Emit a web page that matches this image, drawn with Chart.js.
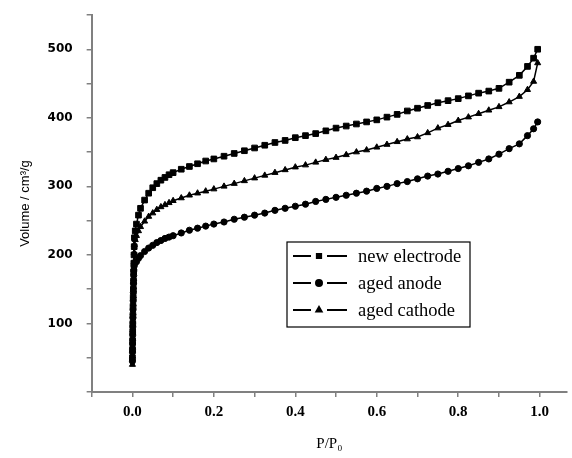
<!DOCTYPE html>
<html>
<head>
<meta charset="utf-8">
<script src="https://cdn.jsdelivr.net/npm/chart.js@4/dist/chart.umd.min.js"></script>
<style>
  html, body { margin: 0; padding: 0; background: #fff; }
  #wrap { width: 572px; height: 458px; }
</style>
</head>
<body>
<div id="wrap"><canvas id="isothermChart"></canvas></div>
<script>
// P/P0 and adsorbed volume for each sample
var newP = [0.0001, 0.0003, 0.0005, 0.0008, 0.001, 0.0013, 0.0016, 0.002, 0.0024, 0.0028, 0.0032, 0.0036, 0.004, 0.0045, 0.005,
    0.007, 0.01, 0.015, 0.02, 0.03, 0.04, 0.05, 0.06, 0.07, 0.08, 0.09, 0.1, 0.12, 0.14, 0.16, 0.18, 0.2,
    0.225, 0.25, 0.275, 0.3, 0.325, 0.35, 0.375, 0.4, 0.425, 0.45, 0.475, 0.5, 0.525, 0.55, 0.575, 0.6,
    0.625, 0.65, 0.675, 0.7, 0.725, 0.75, 0.775, 0.8, 0.825, 0.85, 0.875, 0.9, 0.925, 0.95, 0.97, 0.985, 0.995];
var newV = [50, 62, 75, 88, 100, 112, 125, 138, 150, 162, 175, 188, 200, 212, 225,
    235, 245, 258, 268, 280, 290, 298, 304, 309, 313, 317, 320, 325, 329, 333, 337, 340,
    344, 348, 352, 356, 360, 364, 367, 371, 374, 377, 381, 385, 388, 391, 394, 397,
    401, 405, 410, 414, 418, 422, 425, 428, 432, 436, 439, 443, 452, 462, 475, 487, 500];

var anodeP = [0.0001, 0.0003, 0.0005, 0.0008, 0.001, 0.0013, 0.0016, 0.002, 0.0024, 0.0028, 0.0032, 0.0036, 0.004, 0.005,
    0.01, 0.015, 0.02, 0.03, 0.04, 0.05, 0.06, 0.07, 0.08, 0.09, 0.1, 0.12, 0.14, 0.16, 0.18, 0.2,
    0.225, 0.25, 0.275, 0.3, 0.325, 0.35, 0.375, 0.4, 0.425, 0.45, 0.475, 0.5, 0.525, 0.55, 0.575, 0.6,
    0.625, 0.65, 0.675, 0.7, 0.725, 0.75, 0.775, 0.8, 0.825, 0.85, 0.875, 0.9, 0.925, 0.95, 0.97, 0.985, 0.995];
var anodeV = [45, 58, 70, 83, 95, 108, 120, 133, 145, 158, 170, 178, 183, 186,
    190, 195, 199, 205, 210, 214, 218, 221, 224, 226, 228, 232, 236, 239, 242, 245,
    248, 252, 255, 258, 261, 265, 268, 271, 274, 278, 281, 284, 287, 290, 293, 297,
    300, 304, 307, 311, 315, 318, 322, 326, 330, 335, 340, 347, 355, 362, 374, 384, 394];

var cathodeP = [0.0001, 0.0003, 0.0005, 0.0008, 0.001, 0.0013, 0.0016, 0.002, 0.0024, 0.0028, 0.0032, 0.0036, 0.004, 0.0045, 0.005,
    0.007, 0.01, 0.015, 0.02, 0.03, 0.04, 0.05, 0.06, 0.07, 0.08, 0.09, 0.1, 0.12, 0.14, 0.16, 0.18, 0.2,
    0.225, 0.25, 0.275, 0.3, 0.325, 0.35, 0.375, 0.4, 0.425, 0.45, 0.475, 0.5, 0.525, 0.55, 0.575, 0.6,
    0.625, 0.65, 0.675, 0.7, 0.725, 0.75, 0.775, 0.8, 0.825, 0.85, 0.875, 0.9, 0.925, 0.95, 0.97, 0.985, 0.995];
var cathodeV = [40, 52, 65, 78, 90, 103, 115, 128, 140, 153, 165, 178, 190, 203, 215,
    222, 228, 235, 241, 249, 256, 261, 266, 270, 273, 276, 279, 283, 287, 290, 293, 296,
    300, 304, 308, 312, 316, 320, 324, 328, 331, 335, 339, 342, 346, 350, 353, 357,
    361, 365, 369, 372, 378, 385, 390, 396, 401, 406, 411, 416, 423, 431, 441, 453, 480];

var seriesNames = ['new electrode', 'aged anode', 'aged cathode'];
var yTickLabels = [100, 200, 300, 400, 500];
var xTickLabels = [0, 0.2, 0.4, 0.6, 0.8, 1.0];

function toPoints(px, vy) {
    return px.map(function (p, i) { return { x: p, y: vy[i] }; });
}

var axisGrey = '#808080';

// legend drawn inside a box in the middle of the plot
var boxLegend = {
    id: 'boxLegend',
    afterDraw: function (chart) {
        var ctx = chart.ctx;
        var left = 287, top = 242, w = 183, h = 85;
        ctx.save();
        ctx.strokeStyle = '#000';
        ctx.lineWidth = 1.2;
        ctx.strokeRect(left, top, w, h);
        ctx.font = '18.5px "Liberation Serif", "Times New Roman", serif';
        ctx.textBaseline = 'middle';
        ctx.fillStyle = '#000';
        chart.data.datasets.forEach(function (ds, i) {
            var y = top + 14 + i * 27;
            ctx.beginPath();
            ctx.lineWidth = 2;
            ctx.moveTo(293, y); ctx.lineTo(311, y);
            ctx.moveTo(327, y); ctx.lineTo(347, y);
            ctx.stroke();
            Chart.helpers.drawPoint(ctx, { pointStyle: ds.pointStyle, radius: 3, borderWidth: 1, rotation: 0 }, 319, y);
            ctx.fill();
            ctx.fillText(ds.label, 358, y + 1);
        });
        ctx.restore();
    }
};

var ctx = document.getElementById('isothermChart').getContext('2d');
var isothermChart = new Chart(ctx, {
    type: 'scatter',
    data: {
        datasets: [{
            label: seriesNames[0],
            data: toPoints(newP, newV),
            pointStyle: 'rect',
            pointRadius: 4
        }, {
            label: seriesNames[1],
            data: toPoints(anodeP, anodeV),
            pointStyle: 'circle',
            pointRadius: 3.1
        }, {
            label: seriesNames[2],
            data: toPoints(cathodeP, cathodeV),
            pointStyle: 'triangle',
            pointRadius: 3.5
        }].map(function (d) {
            d.showLine = true;
            d.borderColor = '#000';
            d.backgroundColor = '#000';
            d.borderWidth = 1.5;
            d.pointBorderWidth = 1;
            return d;
        })
    },
    options: {
        responsive: true,
        maintainAspectRatio: false,
        animation: false,
        layout: { padding: { top: 15, right: 1, left: 18, bottom: 5 } },
        plugins: {
            legend: { display: false },
            tooltip: { enabled: false }
        },
        scales: {
            x: {
                type: 'linear',
                min: -0.1,
                max: 1.067,
                grid: { drawOnChartArea: false, drawTicks: true, tickLength: 5, color: axisGrey, lineWidth: 1.5 },
                border: { color: axisGrey, width: 2 },
                ticks: {
                    stepSize: 0.1,
                    includeBounds: false,
                    padding: 6,
                    color: '#000',
                    font: { family: '"Liberation Serif", serif', size: 15, weight: 'bold' },
                    callback: function (v) {
                        var k = Math.round(v * 10) / 10;
                        return xTickLabels.indexOf(k) >= 0 ? k.toFixed(1) : '';
                    }
                },
                title: {
                    display: true,
                    text: 'P/P\u2080',
                    color: '#000',
                    font: { family: '"Liberation Serif", serif', size: 15 },
                    padding: { top: 8, bottom: 0 }
                }
            },
            y: {
                min: 0,
                max: 550,
                afterFit: function (scale) { scale.paddingTop = 0; },
                grid: { drawOnChartArea: false, drawTicks: true, tickLength: 5, color: axisGrey, lineWidth: 1.5 },
                border: { color: axisGrey, width: 2 },
                ticks: {
                    stepSize: 50,
                    padding: 14,
                    color: '#000',
                    font: { family: '"DejaVu Sans", sans-serif', size: 12, weight: 'bold' },
                    callback: function (v) {
                        return yTickLabels.indexOf(v) >= 0 ? String(v) : '';
                    }
                },
                title: {
                    display: true,
                    text: 'Volume / cm\u00b3/g',
                    color: '#000',
                    font: { family: '"Liberation Sans", Arial, sans-serif', size: 13 },
                    padding: { top: 0, bottom: 0 }
                }
            }
        }
    },
    plugins: [boxLegend]
});
</script>
</body>
</html>
